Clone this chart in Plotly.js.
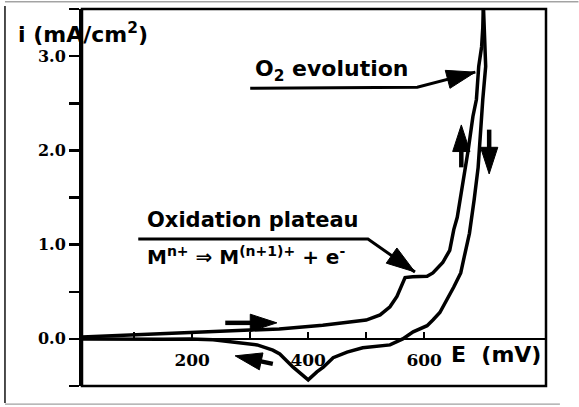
<!DOCTYPE html>
<html>
<head>
<meta charset="utf-8">
<script src="https://cdn.plot.ly/plotly-3.0.1.min.js"></script>
<style>html,body{margin:0;padding:0;background:#fff;}#chart{width:579px;height:407px;}</style>
</head>
<body>
<div id="chart"></div>
<script>
// Anodic (forward) scan: potential E (mV) and current density i (mA/cm2)
const E_fwd = [10, 100, 200, 300, 350, 425, 500, 524, 541, 553, 562, 567, 580, 605, 615, 632, 644, 651, 657, 667, 676, 684, 690, 694, 699, 701, 702];
const i_fwd = [0.02, 0.045, 0.07, 0.095, 0.106, 0.145, 0.20, 0.255, 0.34, 0.45, 0.59, 0.65, 0.66, 0.665, 0.70, 0.81, 0.94, 1.16, 1.29, 1.66, 2.01, 2.36, 2.54, 2.89, 3.10, 3.30, 3.55];
// Cathodic (reverse) scan
const E_rev = [702, 705, 706, 701, 697, 693, 686, 678, 669, 663, 651, 637, 627, 615, 605, 581, 563, 541, 494, 467, 443, 426, 415, 400, 387, 374, 351, 339, 312, 270, 236, 196, 150, 10];
const i_rev = [3.55, 3.10, 2.89, 2.54, 2.19, 1.82, 1.47, 1.12, 0.87, 0.70, 0.55, 0.40, 0.28, 0.20, 0.14, 0.075, 0.0, -0.064, -0.095, -0.14, -0.20, -0.30, -0.35, -0.435, -0.37, -0.30, -0.16, -0.12, -0.064, -0.032, -0.01, 0.0, -0.005, 0.0];

// Axis ticks
const xTickVals = [100, 200, 300, 400, 500, 600];
const xTickText = ['', '200', '', '400', '', '600'];
const yTickVals = [-0.5, 0, 0.5, 1, 1.5, 2, 2.5, 3, 3.5];
const yTickText = ['', '0.0', '', '1.0', '', '2.0', '', '3.0', ''];

// Labels
const yTitle = 'i (mA/cm<sup>2</sup>)';
const xTitle = 'E&nbsp; (mV)';
const o2Label = 'O<sub>2</sub> evolution';
const plateauLabel = 'Oxidation plateau';
const reactionLabel = 'M<sup>n+</sup> \u21D2 M<sup>(n+1)+</sup> + e<sup>-</sup>';

// Arrow paths (E, i) : leader lines and scan-direction arrows
const o2Arrow_E = [300, 588, 688], o2Arrow_i = [2.66, 2.67, 2.83];
const platArrow_E = [107, 503, 584], platArrow_i = [1.06, 1.06, 0.71];
const fwdArrow_E = [257, 346], fwdArrow_i = [0.17, 0.17];
const revArrow_E = [339, 274], revArrow_i = [-0.265, -0.18];
const upArrow_E = [664, 664], upArrow_i = [1.82, 2.27];
const downArrow_E = [712, 712], downArrow_i = [2.22, 1.75];

function arrowTrace(xs, ys, w, head) {
  return {
    x: xs, y: ys, mode: 'lines+markers', type: 'scatter', opacity: 1,
    line: {color: '#000', width: w},
    marker: {symbol: 'arrow', angleref: 'previous', color: '#000', opacity: 1,
             size: xs.map((_, k) => k === xs.length - 1 ? head : 0),
             line: {width: 1, color: '#000'}},
    hoverinfo: 'skip', showlegend: false, cliponaxis: false
  };
}

const curveStyle = {color: '#000', width: 3.5};
const data = [
  {x: E_fwd, y: i_fwd, mode: 'lines', type: 'scatter', line: curveStyle, showlegend: false, hoverinfo: 'skip'},
  {x: E_rev, y: i_rev, mode: 'lines', type: 'scatter', line: curveStyle, showlegend: false, hoverinfo: 'skip'},
  arrowTrace(o2Arrow_E, o2Arrow_i, 3, 30),
  arrowTrace(platArrow_E, platArrow_i, 3, 30),
  arrowTrace(fwdArrow_E, fwdArrow_i, 4.5, 28),
  arrowTrace(revArrow_E, revArrow_i, 4.5, 28),
  arrowTrace(upArrow_E, upArrow_i, 4.5, 28),
  arrowTrace(downArrow_E, downArrow_i, 4.5, 28)
];

const annFont = {family: 'DejaVu Sans', size: 21, color: '#000', weight: 'bold'};
const layout = {
  width: 579, height: 407,
  margin: {l: 82, r: 33, t: 9, b: 21, pad: 0},
  paper_bgcolor: '#fff', plot_bgcolor: '#fff',
  showlegend: false,
  xaxis: {
    range: [10, 810], anchor: 'free', position: 0.125,
    showline: true, linecolor: '#000', linewidth: 2.5,
    ticks: 'inside', ticklen: 6, tickwidth: 2.5, tickcolor: '#000',
    tickvals: xTickVals, ticktext: xTickText, ticklabelstandoff: 5,
    tickfont: {family: 'DejaVu Serif', size: 17, color: '#000', weight: 'bold'},
    showgrid: false, zeroline: false
  },
  yaxis: {
    range: [-0.5, 3.5],
    showline: true, linecolor: '#000', linewidth: 3,
    ticks: 'outside', ticklen: 10, tickwidth: 2.5, tickcolor: '#000',
    tickvals: yTickVals, ticktext: yTickText,
    tickfont: {family: 'DejaVu Serif', size: 16, color: '#000', weight: 'bold'},
    showgrid: false, zeroline: false
  },
  shapes: [
    {type: 'rect', xref: 'paper', yref: 'paper', x0: 0, x1: 1, y0: 0, y1: 1, line: {color: '#000', width: 2.5}},
    {type: 'line', xref: 'paper', yref: 'paper', x0: -0.166, x1: -0.166, y0: -0.045, y1: 1.008, line: {color: '#111', width: 1.5}},
    {type: 'line', xref: 'paper', yref: 'paper', x0: -0.166, x1: 1.07, y0: 1.019, y1: 1.019, line: {color: '#777', width: 1}},
    {type: 'line', xref: 'paper', yref: 'paper', x0: -0.166, x1: 1.03, y0: -0.048, y1: -0.048, line: {color: '#888', width: 1}}
  ],
  annotations: [
    {text: yTitle, xref: 'paper', yref: 'paper', x: -0.142, y: 0.937, xanchor: 'left', yanchor: 'middle', showarrow: false, font: {family: 'DejaVu Sans', size: 22, color: '#000', weight: 'bold'}},
    {text: o2Label, xref: 'x', yref: 'y', x: 305, y: 2.85, xanchor: 'left', yanchor: 'middle', showarrow: false, font: {family: 'DejaVu Sans', size: 22, color: '#000', weight: 'bold'}},
    {text: plateauLabel, xref: 'x', yref: 'y', x: 119, y: 1.26, xanchor: 'left', yanchor: 'middle', showarrow: false, font: annFont},
    {text: reactionLabel, xref: 'x', yref: 'y', x: 119, y: 0.88, xanchor: 'left', yanchor: 'middle', showarrow: false, font: {family: 'DejaVu Sans', size: 20, color: '#000', weight: 'bold'}},
    {text: xTitle, xref: 'x', yref: 'y', x: 643, y: -0.17, xanchor: 'left', yanchor: 'middle', showarrow: false, font: {family: 'DejaVu Sans', size: 22, color: '#000', weight: 'bold'}}
  ]
};

Plotly.newPlot('chart', data, layout, {staticPlot: true, displayModeBar: false});
</script>
</body>
</html>
